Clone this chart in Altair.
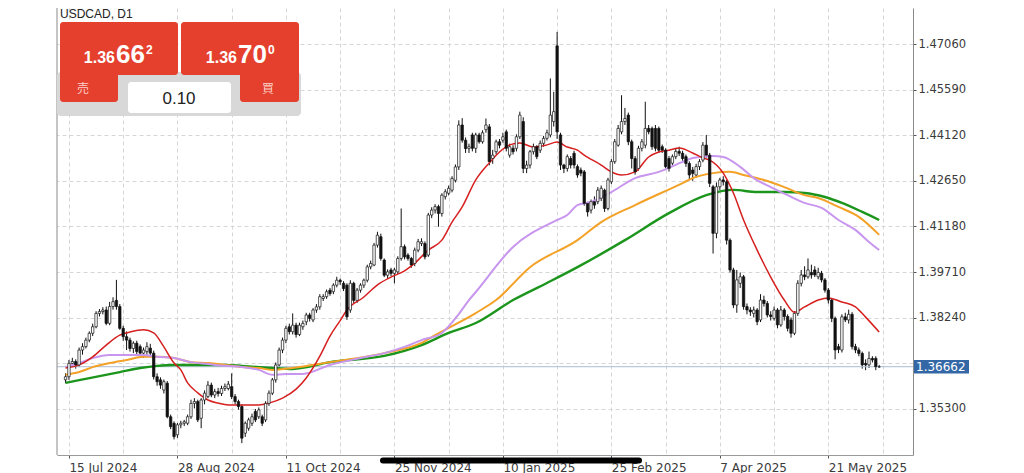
import altair as alt
import pandas as pd

# ---------------- text / labels ----------------
symbol = "USDCAD, D1"
bid_parts = ["1.36", "66", "2"]
ask_parts = ["1.36", "70", "0"]
lot_text = "0.10"
sell_text = "売"
buy_text = "買"
last_price = 1.36662

date_labels = ["15 Jul 2024", "28 Aug 2024", "11 Oct 2024", "25 Nov 2024",
               "10 Jan 2025", "25 Feb 2025", "7 Apr 2025", "21 May 2025"]
date_label_bars = [1, 33, 65, 97, 129, 161, 193, 225]
grid_bars = [1, 17, 33, 49, 65, 81, 97, 113, 129, 145, 161, 177, 193, 209, 225, 241]
price_ticks = [1.35300, 1.36770, 1.38240, 1.39710, 1.41180, 1.42650, 1.44120, 1.45590, 1.47060]

# ---------------- daily candles (bar index 0..240) ----------------
opens = [
    1.3624, 1.3634, 1.3677, 1.3683, 1.3672, 1.3720, 1.3731, 1.3752, 1.3774, 1.3795,
    1.3838, 1.3844, 1.3849, 1.3806, 1.3860, 1.3880, 1.3860, 1.3790, 1.3763, 1.3752,
    1.3725, 1.3742, 1.3731, 1.3710, 1.3715, 1.3726, 1.3710, 1.3634, 1.3624, 1.3591,
    1.3613, 1.3505, 1.3484, 1.3447, 1.3479, 1.3484, 1.3484, 1.3505, 1.3548, 1.3554,
    1.3500, 1.3559, 1.3570, 1.3607, 1.3575, 1.3586, 1.3580, 1.3596, 1.3596, 1.3602,
    1.3570, 1.3554, 1.3538, 1.3452, 1.3468, 1.3484, 1.3522, 1.3505, 1.3505, 1.3495,
    1.3548, 1.3581, 1.3624, 1.3672, 1.3720, 1.3752, 1.3795, 1.3779, 1.3800, 1.3770,
    1.3795, 1.3811, 1.3833, 1.3817, 1.3849, 1.3859, 1.3886, 1.3892, 1.3913, 1.3908,
    1.3929, 1.3945, 1.3935, 1.3929, 1.3849, 1.3935, 1.3880, 1.3913, 1.3929, 1.3945,
    1.3988, 1.3994, 1.4058, 1.4085, 1.4010, 1.3961, 1.3978, 1.3967, 1.3972, 1.4015,
    1.4053, 1.4026, 1.4015, 1.3999, 1.4042, 1.4063, 1.4063, 1.4026, 1.4155, 1.4171,
    1.4182, 1.4160, 1.4214, 1.4225, 1.4235, 1.4267, 1.4310, 1.4445, 1.4396, 1.4369,
    1.4413, 1.4370, 1.4413, 1.4391, 1.4430, 1.4439, 1.4337, 1.4359, 1.4391, 1.4396,
    1.4423, 1.4348, 1.4370, 1.4370, 1.4407, 1.4456, 1.4305, 1.4316, 1.4359, 1.4375,
    1.4364, 1.4386, 1.4402, 1.4413, 1.4456, 1.4700, 1.4413, 1.4316, 1.4305, 1.4337,
    1.4354, 1.4311, 1.4300, 1.4294, 1.4192, 1.4171, 1.4198, 1.4198, 1.4209, 1.4235,
    1.4176, 1.4262, 1.4327, 1.4380, 1.4423, 1.4456, 1.4477, 1.4391, 1.4337, 1.4305,
    1.4370, 1.4380, 1.4434, 1.4434, 1.4434, 1.4434, 1.4375, 1.4364, 1.4337, 1.4322,
    1.4343, 1.4360, 1.4354, 1.4343, 1.4321, 1.4300, 1.4284, 1.4311, 1.4332, 1.4380,
    1.4348, 1.4246, 1.4096, 1.4246, 1.4268, 1.4262, 1.4074, 1.3978, 1.3865, 1.3935,
    1.3956, 1.3860, 1.3849, 1.3838, 1.3849, 1.3817, 1.3881, 1.3870, 1.3833, 1.3822,
    1.3849, 1.3801, 1.3849, 1.3828, 1.3817, 1.3774, 1.3838, 1.3935, 1.3962, 1.3956,
    1.3970, 1.3978, 1.3956, 1.3967, 1.3946, 1.3913, 1.3881, 1.3822, 1.3731, 1.3720,
    1.3827, 1.3817, 1.3835, 1.3731, 1.3720, 1.3709, 1.3677, 1.3672, 1.3693, 1.3693,
    1.3666,
]
highs = [
    1.3645, 1.3688, 1.3695, 1.3690, 1.3728, 1.3742, 1.3760, 1.3780, 1.3805, 1.3845,
    1.3852, 1.3858, 1.3860, 1.3875, 1.3890, 1.3946, 1.3868, 1.3798, 1.3780, 1.3760,
    1.3748, 1.3750, 1.3738, 1.3728, 1.3745, 1.3740, 1.3718, 1.3645, 1.3632, 1.3625,
    1.3620, 1.3512, 1.3490, 1.3485, 1.3492, 1.3495, 1.3512, 1.3560, 1.3565, 1.3560,
    1.3565, 1.3590, 1.3620, 1.3615, 1.3595, 1.3598, 1.3605, 1.3612, 1.3620, 1.3645,
    1.3578, 1.3560, 1.3545, 1.3490, 1.3502, 1.3515, 1.3530, 1.3535, 1.3512, 1.3555,
    1.3590, 1.3630, 1.3680, 1.3728, 1.3760, 1.3798, 1.3805, 1.3838, 1.3808, 1.3808,
    1.3815, 1.3840, 1.3840, 1.3855, 1.3868, 1.3900, 1.3900, 1.3915, 1.3920, 1.3935,
    1.3956, 1.3950, 1.3942, 1.3935, 1.3945, 1.3940, 1.3920, 1.3935, 1.3950, 1.3995,
    1.4008, 1.4065, 1.4101, 1.4095, 1.4015, 1.3980, 1.3985, 1.3985, 1.4022, 1.4176,
    1.4060, 1.4032, 1.4020, 1.4050, 1.4078, 1.4080, 1.4070, 1.4162, 1.4180, 1.4190,
    1.4188, 1.4225, 1.4238, 1.4250, 1.4280, 1.4318, 1.4460, 1.4467, 1.4405, 1.4385,
    1.4420, 1.4420, 1.4420, 1.4428, 1.4466, 1.4448, 1.4365, 1.4398, 1.4400, 1.4420,
    1.4430, 1.4385, 1.4380, 1.4415, 1.4488, 1.4470, 1.4330, 1.4365, 1.4385, 1.4380,
    1.4395, 1.4410, 1.4430, 1.4595, 1.4552, 1.4745, 1.4420, 1.4320, 1.4350, 1.4345,
    1.4362, 1.4318, 1.4308, 1.4300, 1.4198, 1.4205, 1.4215, 1.4245, 1.4250, 1.4240,
    1.4275, 1.4335, 1.4400, 1.4445, 1.4541, 1.4500, 1.4485, 1.4398, 1.4345, 1.4378,
    1.4400, 1.4520, 1.4445, 1.4440, 1.4445, 1.4440, 1.4382, 1.4370, 1.4345, 1.4350,
    1.4370, 1.4375, 1.4362, 1.4350, 1.4328, 1.4310, 1.4320, 1.4335, 1.4390, 1.4413,
    1.4355, 1.4252, 1.4260, 1.4275, 1.4280, 1.4268, 1.4080, 1.3985, 1.3978, 1.3970,
    1.3962, 1.3870, 1.3858, 1.3860, 1.3855, 1.3900, 1.3895, 1.3878, 1.3845, 1.3860,
    1.3855, 1.3862, 1.3855, 1.3835, 1.3825, 1.3845, 1.3945, 1.3978, 1.3990, 1.4015,
    1.3995, 1.3990, 1.3985, 1.3975, 1.3952, 1.3920, 1.3888, 1.3828, 1.3740, 1.3835,
    1.3840, 1.3850, 1.3842, 1.3740, 1.3728, 1.3715, 1.3690, 1.3715, 1.3700, 1.3700,
    1.3672,
]
lows = [
    1.3613, 1.3624, 1.3665, 1.3660, 1.3665, 1.3705, 1.3725, 1.3745, 1.3765, 1.3790,
    1.3828, 1.3835, 1.3800, 1.3800, 1.3850, 1.3850, 1.3785, 1.3750, 1.3720, 1.3715,
    1.3710, 1.3705, 1.3700, 1.3695, 1.3705, 1.3700, 1.3625, 1.3605, 1.3595, 1.3580,
    1.3500, 1.3465, 1.3432, 1.3437, 1.3468, 1.3475, 1.3478, 1.3498, 1.3532, 1.3488,
    1.3468, 1.3545, 1.3565, 1.3568, 1.3565, 1.3570, 1.3572, 1.3588, 1.3590, 1.3562,
    1.3545, 1.3528, 1.3420, 1.3440, 1.3460, 1.3475, 1.3488, 1.3498, 1.3475, 1.3488,
    1.3540, 1.3575, 1.3615, 1.3660, 1.3710, 1.3742, 1.3770, 1.3770, 1.3760, 1.3765,
    1.3785, 1.3800, 1.3812, 1.3810, 1.3840, 1.3850, 1.3878, 1.3885, 1.3895, 1.3900,
    1.3922, 1.3930, 1.3910, 1.3817, 1.3840, 1.3870, 1.3872, 1.3905, 1.3920, 1.3938,
    1.3980, 1.3990, 1.4050, 1.4008, 1.3955, 1.3950, 1.3958, 1.3935, 1.3965, 1.4008,
    1.4012, 1.4008, 1.3985, 1.3990, 1.4035, 1.4055, 1.4012, 1.4020, 1.4145, 1.4160,
    1.4117, 1.4150, 1.4205, 1.4218, 1.4228, 1.4260, 1.4300, 1.4388, 1.4355, 1.4355,
    1.4360, 1.4355, 1.4385, 1.4385, 1.4420, 1.4315, 1.4320, 1.4350, 1.4370, 1.4388,
    1.4360, 1.4340, 1.4350, 1.4360, 1.4400, 1.4290, 1.4290, 1.4305, 1.4350, 1.4335,
    1.4355, 1.4375, 1.4395, 1.4405, 1.4440, 1.4400, 1.4300, 1.4290, 1.4295, 1.4305,
    1.4305, 1.4275, 1.4280, 1.4185, 1.4150, 1.4160, 1.4175, 1.4190, 1.4200, 1.4165,
    1.4170, 1.4255, 1.4320, 1.4375, 1.4415, 1.4445, 1.4380, 1.4305, 1.4285, 1.4298,
    1.4360, 1.4370, 1.4415, 1.4365, 1.4360, 1.4355, 1.4355, 1.4305, 1.4295, 1.4315,
    1.4335, 1.4345, 1.4330, 1.4310, 1.4270, 1.4265, 1.4275, 1.4300, 1.4325, 1.4340,
    1.4245, 1.4031, 1.4080, 1.4235, 1.4250, 1.4060, 1.3970, 1.3855, 1.3840, 1.3920,
    1.3850, 1.3835, 1.3830, 1.3825, 1.3800, 1.3810, 1.3860, 1.3825, 1.3815, 1.3815,
    1.3790, 1.3795, 1.3815, 1.3780, 1.3760, 1.3768, 1.3830, 1.3925, 1.3945, 1.3950,
    1.3950, 1.3955, 1.3948, 1.3938, 1.3905, 1.3870, 1.3810, 1.3690, 1.3710, 1.3712,
    1.3810, 1.3805, 1.3722, 1.3710, 1.3700, 1.3660, 1.3655, 1.3662, 1.3680, 1.3655,
    1.3662,
]
closes = [
    1.3634, 1.3677, 1.3683, 1.3672, 1.3720, 1.3731, 1.3752, 1.3774, 1.3795, 1.3838,
    1.3844, 1.3849, 1.3806, 1.3860, 1.3876, 1.3860, 1.3790, 1.3763, 1.3752, 1.3725,
    1.3742, 1.3715, 1.3710, 1.3720, 1.3731, 1.3710, 1.3634, 1.3618, 1.3607, 1.3618,
    1.3505, 1.3473, 1.3441, 1.3479, 1.3484, 1.3489, 1.3505, 1.3548, 1.3554, 1.3495,
    1.3559, 1.3581, 1.3607, 1.3575, 1.3586, 1.3580, 1.3596, 1.3602, 1.3610, 1.3570,
    1.3554, 1.3538, 1.3436, 1.3484, 1.3495, 1.3505, 1.3495, 1.3527, 1.3484, 1.3548,
    1.3581, 1.3624, 1.3672, 1.3720, 1.3752, 1.3790, 1.3779, 1.3800, 1.3770, 1.3800,
    1.3806, 1.3833, 1.3822, 1.3849, 1.3859, 1.3892, 1.3892, 1.3908, 1.3902, 1.3929,
    1.3945, 1.3940, 1.3918, 1.3827, 1.3935, 1.3880, 1.3913, 1.3929, 1.3945, 1.3988,
    1.3999, 1.4058, 1.4090, 1.4015, 1.3961, 1.3972, 1.3967, 1.3978, 1.4015, 1.4053,
    1.4020, 1.4015, 1.3994, 1.4042, 1.4069, 1.4069, 1.4020, 1.4155, 1.4171, 1.4182,
    1.4160, 1.4219, 1.4230, 1.4241, 1.4273, 1.4310, 1.4445, 1.4396, 1.4369, 1.4375,
    1.4370, 1.4413, 1.4391, 1.4420, 1.4445, 1.4327, 1.4348, 1.4391, 1.4380, 1.4407,
    1.4370, 1.4375, 1.4359, 1.4407, 1.4477, 1.4305, 1.4316, 1.4359, 1.4375, 1.4343,
    1.4386, 1.4402, 1.4420, 1.4477, 1.4488, 1.4423, 1.4316, 1.4305, 1.4343, 1.4316,
    1.4316, 1.4284, 1.4290, 1.4192, 1.4165, 1.4198, 1.4187, 1.4235, 1.4241, 1.4176,
    1.4268, 1.4327, 1.4391, 1.4434, 1.4456, 1.4466, 1.4391, 1.4337, 1.4294, 1.4370,
    1.4391, 1.4434, 1.4423, 1.4375, 1.4370, 1.4364, 1.4364, 1.4311, 1.4305, 1.4343,
    1.4360, 1.4354, 1.4337, 1.4321, 1.4284, 1.4289, 1.4311, 1.4327, 1.4380, 1.4348,
    1.4257, 1.4096, 1.4246, 1.4268, 1.4262, 1.4074, 1.3978, 1.3865, 1.3946, 1.3956,
    1.3860, 1.3849, 1.3843, 1.3849, 1.3811, 1.3881, 1.3870, 1.3833, 1.3828, 1.3849,
    1.3801, 1.3849, 1.3828, 1.3790, 1.3774, 1.3838, 1.3935, 1.3962, 1.3956, 1.3978,
    1.3962, 1.3962, 1.3970, 1.3946, 1.3913, 1.3881, 1.3822, 1.3720, 1.3722, 1.3827,
    1.3817, 1.3835, 1.3731, 1.3720, 1.3709, 1.3672, 1.3672, 1.3693, 1.3688, 1.3666,
    1.3666,
]

# ---------------- moving averages (read at sampled bars) ----------------
ma_red_bars = [0, 4, 8, 12, 16, 19, 23, 26, 29, 32, 34, 36, 39, 42, 45, 48, 52, 57, 60, 64,
               68, 71, 75, 78, 81, 83, 88, 92, 96, 100, 103, 107, 111, 114, 117, 121, 125, 128, 131, 134,
               138, 142, 145, 148, 151, 153, 158, 161, 164, 168, 172, 175, 178, 181, 185, 188, 190, 194, 197, 200,
               204, 208, 212, 215, 218, 222, 225, 229, 233, 236, 240]
ma_red = [1.3662, 1.3672, 1.3698, 1.3736, 1.3768, 1.3778, 1.3785, 1.3775, 1.3730, 1.3678,
          1.3656, 1.3614, 1.3582, 1.3559, 1.3549, 1.3543, 1.3543, 1.3543, 1.3549, 1.3565,
          1.3594, 1.3630, 1.3700, 1.3765, 1.3815, 1.3849, 1.3891, 1.3930, 1.3955, 1.3975,
          1.4000, 1.4042, 1.4074, 1.4132, 1.4181, 1.4268, 1.4323, 1.4358, 1.4381, 1.4387,
          1.4374, 1.4381, 1.4390, 1.4374, 1.4364, 1.4348, 1.4316, 1.4294, 1.4284, 1.4294,
          1.4342, 1.4358, 1.4364, 1.4371, 1.4355, 1.4339, 1.4332, 1.4290, 1.4226, 1.4139,
          1.4042, 1.3955, 1.3881, 1.3842, 1.3859, 1.3881, 1.3888, 1.3875, 1.3859, 1.3826,
          1.3778]
ma_violet_bars = [0, 4, 8, 13, 18, 23, 27, 32, 37, 42, 47, 52, 57, 61, 65, 70, 78, 87, 94, 100,
                  105, 111, 116, 119, 121, 132, 145, 148, 151, 155, 161, 168, 175, 182, 185, 191, 194, 199, 203, 208,
                  213, 218, 223, 228, 233, 237, 240]
ma_violet = [1.3665, 1.3678, 1.3694, 1.3704, 1.3704, 1.3704, 1.3698, 1.3694, 1.3681, 1.3675,
             1.3669, 1.3665, 1.3656, 1.3640, 1.3643, 1.3643, 1.3672, 1.3694, 1.3710, 1.3730,
             1.3752, 1.3775, 1.3836, 1.3881, 1.3907, 1.4052, 1.4139, 1.4155, 1.4187, 1.4197,
             1.4229, 1.4274, 1.4294, 1.4326, 1.4339, 1.4345, 1.4342, 1.4310, 1.4274, 1.4245,
             1.4219, 1.4194, 1.4178, 1.4139, 1.4107, 1.4068, 1.4042]
ma_orange_bars = [0, 4, 8, 13, 18, 23, 27, 32, 37, 42, 47, 52, 57, 61, 67, 78, 94, 105, 109, 121,
                  127, 137, 151, 158, 168, 182, 185, 191, 196, 200, 206, 212, 218, 222, 228, 234, 240]
ma_orange = [1.3640, 1.3649, 1.3665, 1.3678, 1.3688, 1.3698, 1.3698, 1.3694, 1.3681, 1.3678,
             1.3672, 1.3665, 1.3662, 1.3656, 1.3662, 1.3681, 1.3710, 1.3743, 1.3768, 1.3839,
             1.3881, 1.3987, 1.4074, 1.4132, 1.4187, 1.4258, 1.4274, 1.4290, 1.4294, 1.4284,
             1.4268, 1.4245, 1.4219, 1.4210, 1.4181, 1.4149, 1.4091]
ma_green_bars = [0, 4, 10, 16, 22, 27, 32, 37, 42, 47, 52, 57, 61, 67, 78, 94, 105, 113, 121, 132,
                 142, 151, 165, 178, 189, 197, 204, 212, 218, 224, 229, 235, 240]
ma_green = [1.3614, 1.3623, 1.3636, 1.3649, 1.3662, 1.3669, 1.3672, 1.3672, 1.3672, 1.3672,
            1.3669, 1.3665, 1.3662, 1.3659, 1.3681, 1.3701, 1.3736, 1.3775, 1.3807, 1.3881,
            1.3936, 1.3987, 1.4074, 1.4161, 1.4219, 1.4236, 1.4229, 1.4229, 1.4226, 1.4213,
            1.4194, 1.4165, 1.4139]

# ---------------- build ----------------
W, H = 856, 447
xs = alt.Scale(domain=[-1.05, 248.5], nice=False, zero=False)
ys = alt.Scale(domain=[1.338179, 1.482199], nice=False, zero=False)

candles = pd.DataFrame({"bar": list(range(len(opens))), "open": opens, "high": highs,
                        "low": lows, "close": closes})

label_expr = "''"
for b, t in reversed(list(zip(date_label_bars, date_labels))):
    label_expr = f"datum.value == {b} ? '{t}' : ({label_expr})"
tick_test = "indexof([" + ",".join(str(b) for b in date_label_bars) + "], datum.value) >= 0"

x_axis = alt.Axis(values=grid_bars, labelExpr=label_expr, grid=True, gridDash=[4, 3],
                  gridColor="#d6d6d6", gridWidth=1, domainColor="#9a9a9a", domainWidth=1,
                  tickColor="#555555", tickSize=3,
                  tickOpacity={"condition": {"test": tick_test, "value": 1}, "value": 0},
                  labelAlign="left", labelBaseline="top", labelPadding=4, labelFont="DejaVu Sans",
                  labelFontSize=12, labelColor="#3a3a3a", labelOverlap=False, title=None, zindex=0)
y_label_expr = "abs(datum.value - 1.3677) < 0.00005 ? '' : format(datum.value, '.5f')"
y_axis = alt.Axis(values=price_ticks, orient="right", grid=True, gridDash=[4, 3],
                  gridColor="#d6d6d6", gridWidth=1, domainColor="#8a8a8a", domainWidth=1,
                  tickColor="#555555", tickSize=3, labelAlign="left", labelPadding=2,
                  labelFont="DejaVu Sans", labelFontSize=11.5, labelColor="#3a3a3a",
                  labelExpr=y_label_expr, title=None, zindex=0)


def X(field):
    return alt.X(field, scale=xs, axis=x_axis)


def Y(field):
    return alt.Y(field, scale=ys, axis=y_axis)


base = alt.Chart(candles)

wicks = base.mark_rule(color="#111111", strokeWidth=1).encode(
    x=X("bar:Q"), y=Y("low:Q"), y2="high:Q")
bodies = base.mark_bar(size=2.4, stroke="#111111", strokeWidth=0.7).encode(
    x=X("bar:Q"), y=Y("open:Q"), y2="close:Q",
    fill=alt.condition("datum.close >= datum.open", alt.value("#ffffff"), alt.value("#111111")),
)


def ma_layer(bars, vals, color, width):
    df = pd.DataFrame({"bar": bars, "ma": vals})
    return alt.Chart(df).mark_line(color=color, strokeWidth=width, interpolate="monotone").encode(
        x=X("bar:Q"), y=Y("ma:Q"))


ma_g = ma_layer(ma_green_bars, ma_green, "#1c951c", 2.4)
ma_o = ma_layer(ma_orange_bars, ma_orange, "#f3a127", 2.0)
ma_v = ma_layer(ma_violet_bars, ma_violet, "#c896ee", 2.0)
ma_r = ma_layer(ma_red_bars, ma_red, "#d61f1f", 1.5)

price_df = pd.DataFrame({"p": [last_price]})
price_line = alt.Chart(price_df).mark_rule(color="#a9bdd3", strokeWidth=1).encode(
    x=alt.value(0), x2=alt.value(W), y=Y("p:Q"))
tag_box = alt.Chart(price_df).transform_calculate(
    top="datum.p + 0.0022", bot="datum.p - 0.0022"
).mark_rect(color="#3467a6").encode(
    x=alt.value(W + 1), x2=alt.value(W + 56), y=Y("top:Q"), y2="bot:Q")
tag_text = alt.Chart(price_df).transform_calculate(
    t="format(datum.p, '.5f')"
).mark_text(align="left", baseline="middle", font="DejaVu Sans", fontSize=12, color="white").encode(
    x=alt.value(W + 3), y=Y("p:Q"), text="t:N")

left_border = alt.Chart(price_df).mark_rule(color="#8a8a8a", strokeWidth=1).encode(
    x=alt.value(0), y=alt.value(0), y2=alt.value(H))

one = pd.DataFrame({"k": [0]})


def box(x0, x1, y0, y1, color, r=0):
    return alt.Chart(one).mark_rect(color=color, cornerRadius=r).encode(
        x=alt.value(x0), x2=alt.value(x1), y=alt.value(y0), y2=alt.value(y1))


def txt(s, x, y, size, color, align="left", weight="normal", font="Liberation Sans"):
    return alt.Chart(one).mark_text(text=s, align=align, baseline="alphabetic", fontSize=size,
                                    fontWeight=weight, color=color, font=font).encode(
        x=alt.value(x), y=alt.value(y))


RED = "#e5402e"
widget = [
    box(0, 244, 64, 108, "#d8d8d8", 4),
    box(3, 121, 14, 67, RED, 3),
    box(3, 61, 40, 94, RED, 3),
    box(124, 242, 14, 67, RED, 3),
    box(183, 242, 40, 94, RED, 3),
    box(71, 174, 74, 105, "#ffffff", 3),
    txt(symbol, 3, 10, 12, "#222222"),
    txt(bid_parts[0], 58, 55, 16, "white", align="right", weight="bold"),
    txt(bid_parts[1], 59, 55, 26, "white", weight="bold"),
    txt(bid_parts[2], 89, 46, 12, "white", weight="bold"),
    txt(ask_parts[0], 180, 55, 16, "white", align="right", weight="bold"),
    txt(ask_parts[1], 181, 55, 26, "white", weight="bold"),
    txt(ask_parts[2], 211, 46, 12, "white", weight="bold"),
    txt(sell_text, 26, 85, 12, "#fbd0c8", align="center", font="Noto Sans CJK JP"),
    txt(buy_text, 211, 85, 12, "#fbd0c8", align="center", font="Noto Sans CJK JP"),
    txt(lot_text, 122, 96, 17, "#222222", align="center"),
]

home_bar = alt.Chart(one).mark_rule(color="#000000", strokeWidth=6, strokeCap="round").encode(
    x=alt.value(326), x2=alt.value(582), y=alt.value(452.5))

chart = alt.layer(
    wicks, price_line, ma_g, ma_o, ma_v, ma_r, bodies, left_border,
    *widget, tag_box, tag_text, home_bar,
).properties(
    width=W, height=H, autosize="none",
    padding={"left": 49, "top": 0, "right": 103, "bottom": 18},
).configure_view(stroke=None)

chart.save("out.html", embed_options={"renderer": "svg", "actions": False})
